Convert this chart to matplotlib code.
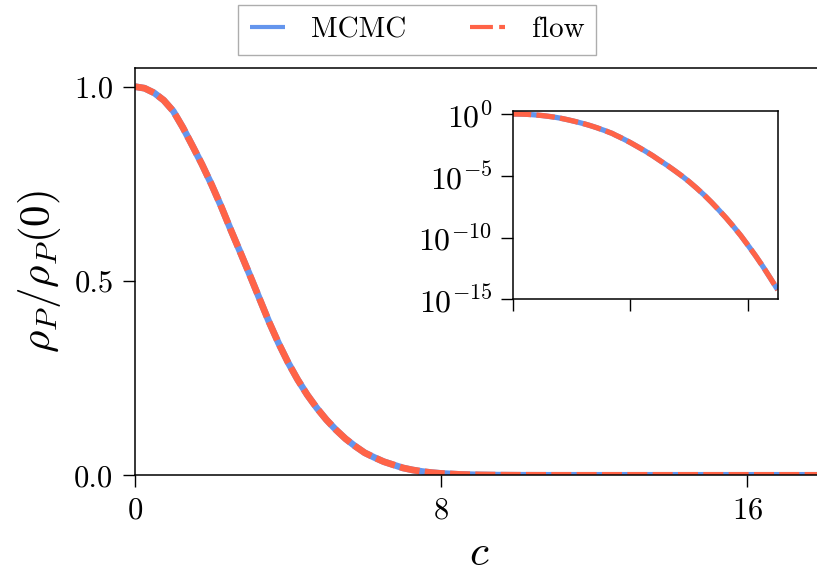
import matplotlib
matplotlib.use("Agg")
import matplotlib.pyplot as plt
import numpy as np

plt.rcParams['font.family'] = 'serif'
plt.rcParams['font.serif'] = ['cmr10', 'DejaVu Serif']
plt.rcParams['mathtext.fontset'] = 'cm'
plt.rcParams['axes.unicode_minus'] = False
plt.rcParams['axes.formatter.use_mathtext'] = True

# ---- data ----
c_vals = [0.0, 0.25, 0.5, 0.75, 1.0, 1.25, 1.5, 1.75, 2.0, 2.25, 2.5, 2.75,
          3.0, 3.25, 3.5, 3.75, 4.0, 4.25, 4.5, 4.75, 5.0, 5.25, 5.5, 5.75,
          6.0, 6.25, 6.5, 6.75, 7.0, 7.25, 7.5, 7.75, 8.0, 8.5, 9.0, 9.5,
          10.0, 10.5, 11.0, 11.5, 12.0, 12.5, 13.0, 13.5, 14.0, 14.5, 15.0,
          15.5, 16.0, 16.5, 17.0, 17.5, 18.0]
rho_mcmc = [1.0, 0.996, 0.984, 0.965, 0.937, 0.895, 0.848, 0.800, 0.748,
            0.692, 0.632, 0.574, 0.515, 0.455, 0.395, 0.340, 0.290, 0.246,
            0.207, 0.173, 0.143, 0.117, 0.094, 0.075, 0.058, 0.046, 0.035,
            0.027, 0.019, 0.0138, 0.0098, 0.0069, 4.8e-3, 2.2e-3, 1.0e-3,
            4.3e-4, 1.7e-4, 6.9e-5, 2.6e-5, 9.5e-6, 3.2e-6, 9.8e-7, 2.8e-7,
            7.2e-8, 1.7e-8, 3.8e-9, 7.6e-10, 1.4e-10, 2.2e-11, 3.3e-12,
            4.4e-13, 5.2e-14, 5.8e-15]
rho_flow = [1.0, 0.996, 0.984, 0.965, 0.937, 0.895, 0.848, 0.800, 0.748,
            0.692, 0.632, 0.574, 0.515, 0.455, 0.395, 0.340, 0.290, 0.246,
            0.207, 0.173, 0.143, 0.117, 0.094, 0.075, 0.058, 0.046, 0.035,
            0.027, 0.019, 0.0138, 0.0098, 0.0069, 4.8e-3, 2.2e-3, 1.0e-3,
            4.3e-4, 1.7e-4, 6.9e-5, 2.6e-5, 9.5e-6, 3.2e-6, 9.8e-7, 2.8e-7,
            7.2e-8, 1.7e-8, 3.8e-9, 7.6e-10, 1.4e-10, 2.2e-11, 3.3e-12,
            4.4e-13, 5.2e-14, 5.8e-15]
labels = ['MCMC', 'flow']
main_xticks = [0, 8, 16]
main_yticks = [0.0, 0.5, 1.0]
inset_yticks = [1e0, 1e-5, 1e-10, 1e-15]

blue = '#6495ED'
red = '#FF6347'

W, H = 817, 575
fig = plt.figure(figsize=(W / 100, H / 100), dpi=100)

def frac(l, t, r, b):
    return [l / W, 1 - b / H, (r - l) / W, (b - t) / H]

ax = fig.add_axes(frac(135, 68, 824, 475.3))
lw = 4.8
l1, = ax.plot(c_vals, rho_mcmc, color=blue, lw=lw, solid_capstyle='butt',
              solid_joinstyle='round', label=labels[0])
l2, = ax.plot(c_vals, rho_flow, color=red, lw=lw, dashes=(3.0, 0.8),
              dash_capstyle='butt', dash_joinstyle='round', label=labels[1])
ax.set_xlim(0, 18)
ax.set_ylim(0, 1.048)
ax.set_xticks(main_xticks)
ax.set_yticks(main_yticks)
ax.set_yticklabels(['0.0', '0.5', '1.0'])
ax.tick_params(direction='out', length=8.5, width=1.0, labelsize=22, pad=7)
for s in ax.spines.values():
    s.set_linewidth(1.1)
ax.set_xlabel(r'$c$', fontsize=31, labelpad=8)
ax.set_ylabel(r'$\rho_P/\rho_P(0)$', fontsize=31, labelpad=8)

# inset
axi = fig.add_axes(frac(512.7, 110.7, 777.7, 299.3))
axi.plot(c_vals, rho_mcmc, color=blue, lw=3.8, solid_capstyle='butt')
axi.plot(c_vals, rho_flow, color=red, lw=3.8, dashes=(3.5, 1.0), dash_capstyle='butt')
axi.set_yscale('log')
axi.set_xlim(0, 18)
axi.set_ylim(1e-15, 1.85)
axi.set_xticks(main_xticks)
axi.set_xticklabels([])
axi.set_yticks(inset_yticks)
axi.yaxis.set_minor_locator(matplotlib.ticker.NullLocator())
axi.tick_params(direction='out', length=8.5, width=1.0, labelsize=23, pad=6)
for s in axi.spines.values():
    s.set_linewidth(1.1)

leg = fig.legend(handles=[l1, l2], labels=labels, loc='upper left',
                 bbox_to_anchor=(238 / W, 1 - 5 / H), ncol=2, fontsize=21,
                 frameon=True, fancybox=False, edgecolor='#999999',
                 handlelength=1.2, handletextpad=0.9, columnspacing=2.2,
                 borderpad=0.4, borderaxespad=0.0)
leg.get_frame().set_linewidth(1.0)
hl = leg.get_lines()
hl[0].set_linewidth(3.0)
hl[1].set_linewidth(3.0)
hl[1].set_dashes((5.5, 1.5))

fig.savefig('out.png', dpi=100)
